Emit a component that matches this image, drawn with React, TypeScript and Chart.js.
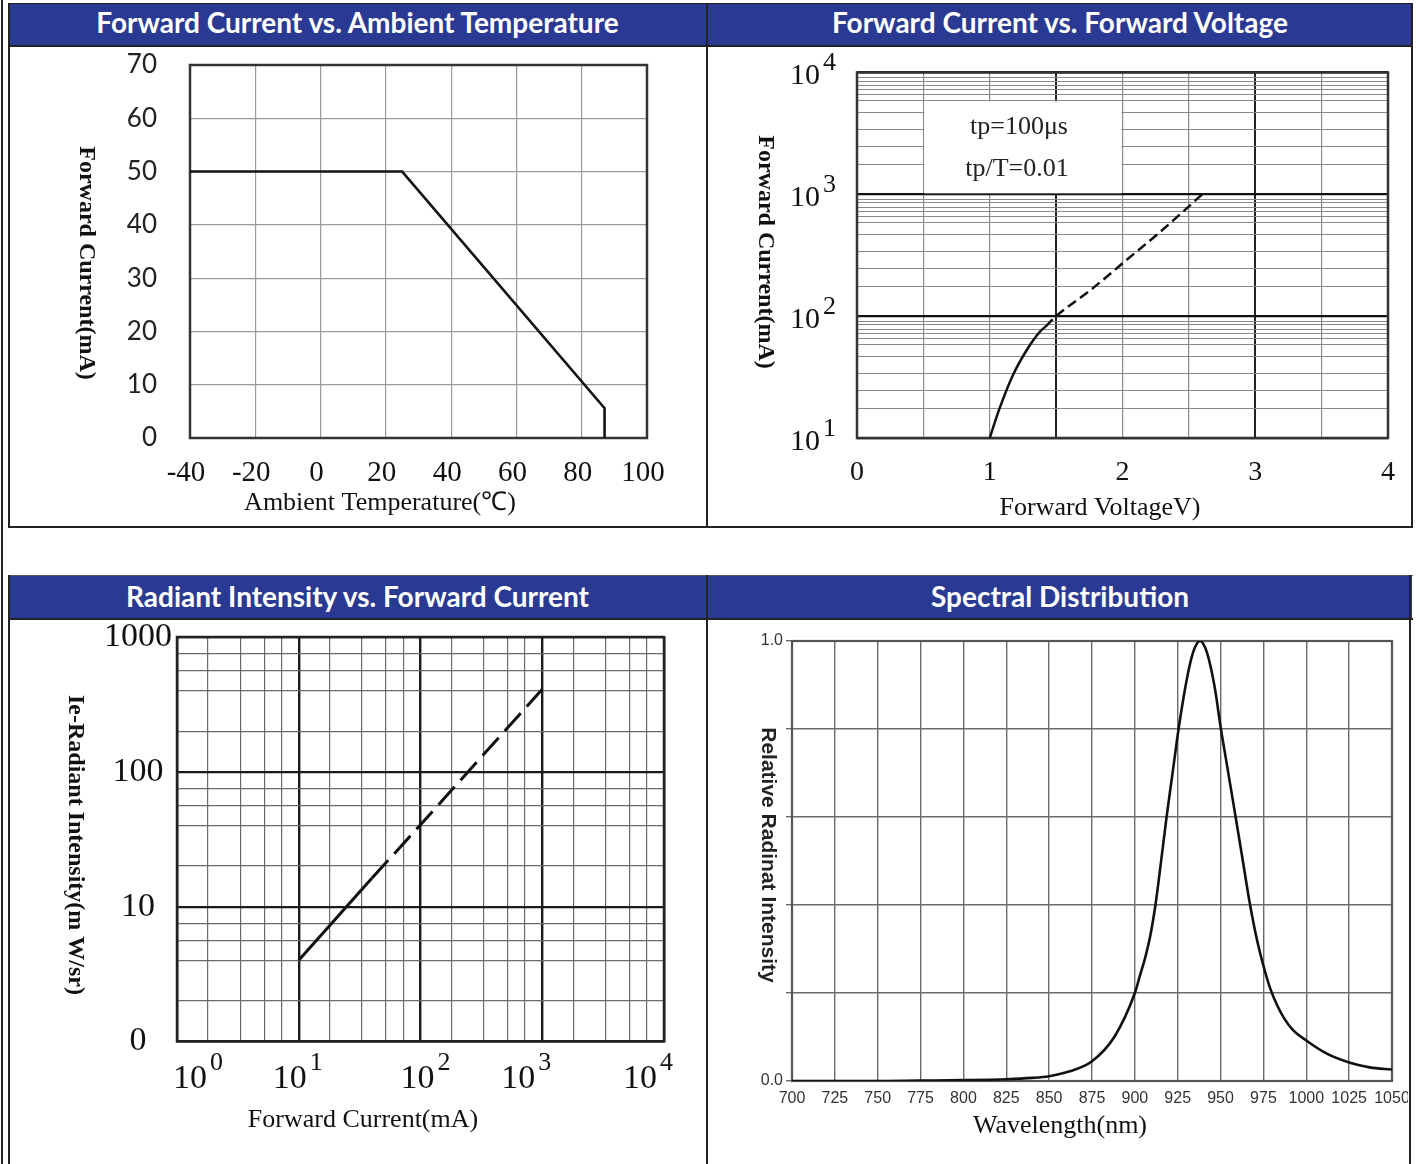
import React, { useEffect, useRef } from "react";
import { Chart, registerables } from "chart.js";
Chart.register(...registerables);

// ---------------- Data ----------------
const panelTitles = [
  "Forward Current vs. Ambient Temperature",
  "Forward Current vs. Forward Voltage",
  "Radiant Intensity vs. Forward Current",
  "Spectral Distribution",
];

// Chart 1: derating curve
const ambientTemp = [-40, 25, 87, 87];
const deratedCurrent = [50, 50, 5.6, 0];

// Chart 2: forward current vs forward voltage (log y)
const vfSolidVoltage = [1.0, 1.07, 1.17, 1.28, 1.38, 1.42];
const vfSolidCurrent = [10, 17, 32, 53, 75, 82];
const vfDashedVoltage = [1.42, 1.5, 1.76, 2.03, 2.3, 2.6];
const vfDashedCurrent = [82, 100, 164, 289, 509, 1000];
const vfDecades = [10, 100, 1000, 10000];
const vfMinorSteps = [1.75, 2.45, 3.4, 4.7, 5.9, 6.6, 7.2, 7.8, 8.5, 9.1];
const vfDarkVoltages = [1.5, 3];
const pulseNotes = ["tp=100\u03bcs", "tp/T=0.01"];

// Chart 3: radiant intensity vs forward current (log-log)
const ieSolidCurrent = [10, 40];
const ieSolidIntensity = [4.0, 16.3];
const ieDashedCurrent = [40, 100, 1000];
const ieDashedIntensity = [16.3, 40.5, 410];
const ifDecades = [1, 10, 100, 1000, 10000];
const ifMinorSteps = [1.8, 3.3, 5.2, 7.2];
const ieDecades = [1, 10, 100, 1000];
const ieMinorSteps = [2, 4, 5.6, 7.5];
const ieTickLabels = ["0", "10", "100", "1000"];

// Chart 4: spectral distribution
const wavelength = [
  700, 725, 750, 775, 800, 825, 840, 850, 862, 875, 888, 900, 903, 906, 909,
  912, 915, 918.5, 922, 925.5, 929, 932, 935, 938, 941, 944, 947, 950, 953,
  956, 959, 963, 967, 971, 975, 979, 983, 987, 992, 1000, 1012, 1025, 1037,
  1050,
];
const relIntensity = [
  0.0, 0.0, 0.0, 0.001, 0.002, 0.004, 0.007, 0.011, 0.022, 0.045, 0.1, 0.2,
  0.24, 0.28, 0.33, 0.4, 0.49, 0.6, 0.7, 0.8, 0.885, 0.945, 0.985, 1.0, 0.985,
  0.945, 0.885, 0.805, 0.735, 0.665, 0.595, 0.5, 0.405, 0.325, 0.262, 0.21,
  0.172, 0.143, 0.117, 0.092, 0.062, 0.042, 0.031, 0.026,
];

// ---------------- Helpers ----------------
const SERIF = "'Liberation Serif', 'Times New Roman', serif";
const SANS = "'Liberation Sans', Arial, sans-serif";
const HEAD = "Lato, 'Open Sans', sans-serif";
const BLUE = "#2a3a92";

const toXY = (xs: number[], ys: number[]) => xs.map((x, i) => ({ x, y: ys[i] }));
function logGrid(decades: number[], steps: number[]) {
  const out: number[] = [];
  decades.forEach((d, i) => {
    out.push(d);
    if (i < decades.length - 1) steps.forEach((s) => out.push(d * s));
  });
  return out;
}

type Box = { left: number; top: number; width: number; height: number };
type Area = { l: number; t: number; r: number; b: number };
function padFor(c: Box, a: Area, yW: number, xH: number) {
  return {
    left: a.l - c.left - yW,
    top: a.t - c.top,
    right: c.left + c.width - a.r,
    bottom: c.top + c.height - a.b - xH,
  };
}

const framePlugin = (color: string, width: number) => ({
  id: "frame",
  beforeDatasetsDraw(chart: any) {
    const { ctx, chartArea: a } = chart;
    ctx.save();
    ctx.strokeStyle = color;
    ctx.lineWidth = width;
    ctx.strokeRect(a.left, a.top, a.right - a.left, a.bottom - a.top);
    ctx.restore();
  },
});

type TextItem = { text: string; x: number; y: number; font: string; color?: string; rotate?: boolean };
const textPlugin = (items: TextItem[], c: Box) => ({
  id: "texts",
  afterDraw(chart: any) {
    const ctx = chart.ctx;
    items.forEach((it) => {
      ctx.save();
      ctx.font = it.font;
      ctx.fillStyle = it.color || "#111";
      ctx.textAlign = "center";
      ctx.textBaseline = "middle";
      ctx.translate(it.x - c.left, it.y - c.top);
      if (it.rotate) ctx.rotate(Math.PI / 2);
      ctx.fillText(it.text, 0, 0);
      ctx.restore();
    });
  },
});

// draws "10" with superscript exponent at decade positions of a log axis
const powerLabelPlugin = (
  axis: "x" | "y",
  decades: number[],
  c: Box,
  o: { pos: number; baseSize: number; expSize: number; expDy: number; baseDy?: number; shifts?: number[] }
) => ({
  id: "powerLabels" + axis,
  afterDraw(chart: any) {
    const ctx = chart.ctx;
    const scale = chart.scales[axis];
    decades.forEach((d, i) => {
      const p = scale.getPixelForValue(d);
      const exp = String(Math.round(Math.log10(d)));
      ctx.save();
      ctx.fillStyle = "#111";
      ctx.textBaseline = "middle";
      ctx.font = `${o.baseSize}px ${SERIF}`;
      const w = ctx.measureText("10").width;
      let bx: number, by: number;
      if (axis === "y") {
        bx = o.pos - c.left - w;
        by = p + (o.baseDy || 0);
      } else {
        bx = p + (o.shifts ? o.shifts[i] : 0) - w / 2;
        by = o.pos - c.top;
      }
      ctx.textAlign = "left";
      ctx.fillText("10", bx, by);
      ctx.font = `${o.expSize}px ${SERIF}`;
      ctx.fillText(exp, bx + w + 3, by + o.expDy);
      ctx.restore();
    });
  },
});

// ---------------- Chart configs ----------------
const C1: Box = { left: 10, top: 47, width: 696, height: 478 };
const A1: Area = { l: 190, t: 65, r: 647, b: 438 };
function config1() {
  return {
    type: "scatter",
    data: {
      datasets: [
        {
          data: toXY(ambientTemp, deratedCurrent),
          showLine: true,
          borderColor: "#151515",
          borderWidth: 2.6,
          pointRadius: 0,
          tension: 0,
        },
      ],
    },
    options: {
      responsive: false,
      animation: false,
      events: [],
      layout: { padding: padFor(C1, A1, 70, 60) },
      plugins: { legend: { display: false }, tooltip: { enabled: false } },
      scales: {
        x: {
          type: "linear",
          min: -40,
          max: 100,
          ticks: {
            stepSize: 20,
            autoSkip: false,
            maxRotation: 0,
            labelOffset: -4,
            font: { family: SERIF, size: 29 },
            color: "#111",
            padding: 18,
          },
          grid: { color: "#9a9a9a", lineWidth: 1.2, drawTicks: false },
          border: { display: false },
          afterFit: (s: any) => { s.height = 60; s.paddingLeft = 0; s.paddingRight = 0; },
        },
        y: {
          min: 0,
          max: 70,
          ticks: { stepSize: 10, autoSkip: false, font: { family: HEAD, size: 26 }, color: "#222", padding: 33 },
          grid: { color: "#9a9a9a", lineWidth: 1.2, drawTicks: false },
          border: { display: false },
          afterFit: (s: any) => { s.width = 70; s.paddingTop = 0; s.paddingBottom = 0; },
        },
      },
    },
    plugins: [
      framePlugin("#333", 2.5),
      textPlugin(
        [
          { text: "Forward Current(mA)", x: 86, y: 263, font: `bold 24px ${SERIF}`, rotate: true },
          { text: "Ambient Temperature(\u2103)", x: 380, y: 503, font: `26px ${SERIF}` },
        ],
        C1
      ),
    ],
  };
}

const C2: Box = { left: 709, top: 47, width: 702, height: 478 };
const A2: Area = { l: 857, t: 72.5, r: 1388, b: 438 };
function config2() {
  const boxPlugin = {
    id: "noteBox",
    beforeDatasetsDraw(chart: any) {
      const { ctx, scales } = chart;
      const x1 = scales.x.getPixelForValue(0.5);
      const x2 = scales.x.getPixelForValue(2.0);
      const y1 = scales.y.getPixelForValue(5900);
      const y2 = scales.y.getPixelForValue(1000);
      ctx.save();
      ctx.fillStyle = "#fff";
      ctx.fillRect(x1 + 1, y1 + 1, x2 - x1 - 2, y2 - y1 - 2);
      ctx.restore();
    },
  };
  return {
    type: "scatter",
    data: {
      datasets: [
        {
          data: toXY(vfSolidVoltage, vfSolidCurrent),
          showLine: true,
          borderColor: "#111",
          borderWidth: 2.5,
          pointRadius: 0,
          cubicInterpolationMode: "monotone",
        },
        {
          data: toXY(vfDashedVoltage, vfDashedCurrent),
          showLine: true,
          borderColor: "#111",
          borderWidth: 2.5,
          borderDash: [10, 5],
          pointRadius: 0,
          cubicInterpolationMode: "monotone",
        },
      ],
    },
    options: {
      responsive: false,
      animation: false,
      events: [],
      layout: { padding: padFor(C2, A2, 60, 60) },
      plugins: { legend: { display: false }, tooltip: { enabled: false } },
      scales: {
        x: {
          type: "linear",
          min: 0,
          max: 4,
          ticks: {
            stepSize: 0.5,
            autoSkip: false,
            maxRotation: 0,
            font: { family: SERIF, size: 28 },
            color: "#111",
            padding: 18,
            callback: (v: number) => (Number.isInteger(v) ? String(v) : ""),
          },
          grid: {
            color: (ctx: any) => (vfDarkVoltages.includes(ctx.tick?.value) ? "#222" : "#8a8a8a"),
            lineWidth: (ctx: any) => (vfDarkVoltages.includes(ctx.tick?.value) ? 2 : 1.2),
            drawTicks: false,
          },
          border: { display: false },
          afterFit: (s: any) => { s.height = 60; s.paddingLeft = 0; s.paddingRight = 0; },
        },
        y: {
          type: "logarithmic",
          min: 10,
          max: 10000,
          afterBuildTicks: (s: any) => { s.ticks = logGrid(vfDecades, vfMinorSteps).map((v) => ({ value: v })); },
          ticks: { display: false, autoSkip: false },
          grid: {
            color: (ctx: any) => (vfDecades.includes(ctx.tick?.value) ? "#111" : "#8a8a8a"),
            lineWidth: (ctx: any) => (vfDecades.includes(ctx.tick?.value) ? 2.2 : 1.1),
            drawTicks: false,
          },
          border: { display: false },
          afterFit: (s: any) => { s.width = 60; s.paddingTop = 0; s.paddingBottom = 0; },
        },
      },
    },
    plugins: [
      boxPlugin,
      framePlugin("#333", 2.5),
      powerLabelPlugin("y", vfDecades, C2, { pos: 820, baseSize: 30, expSize: 26, expDy: -13, baseDy: 4 }),
      textPlugin(
        [
          { text: "Forward Current(mA)", x: 765, y: 252, font: `bold 24px ${SERIF}`, rotate: true },
          { text: "Forward VoltageV)", x: 1100, y: 508, font: `26px ${SERIF}` },
          { text: pulseNotes[0], x: 1019, y: 127, font: `26px ${SERIF}`, color: "#222" },
          { text: pulseNotes[1], x: 1017, y: 169, font: `26px ${SERIF}`, color: "#222" },
        ],
        C2
      ),
    ],
  };
}

const C3: Box = { left: 10, top: 621, width: 696, height: 543 };
const A3: Area = { l: 177, t: 637, r: 664, b: 1041.5 };
function config3() {
  return {
    type: "scatter",
    data: {
      datasets: [
        {
          data: toXY(ieSolidCurrent, ieSolidIntensity),
          showLine: true,
          borderColor: "#111",
          borderWidth: 3,
          pointRadius: 0,
        },
        {
          data: toXY(ieDashedCurrent, ieDashedIntensity),
          showLine: true,
          borderColor: "#111",
          borderWidth: 3,
          borderDash: [24, 9],
          pointRadius: 0,
        },
      ],
    },
    options: {
      responsive: false,
      animation: false,
      events: [],
      layout: { padding: padFor(C3, A3, 95, 60) },
      plugins: { legend: { display: false }, tooltip: { enabled: false } },
      scales: {
        x: {
          type: "logarithmic",
          min: 1,
          max: 10000,
          afterBuildTicks: (s: any) => { s.ticks = logGrid(ifDecades, ifMinorSteps).map((v) => ({ value: v })); },
          ticks: { display: false, autoSkip: false },
          grid: {
            color: (ctx: any) => (ifDecades.includes(ctx.tick?.value) ? "#1a1a1a" : "#6a6a6a"),
            lineWidth: (ctx: any) => (ifDecades.includes(ctx.tick?.value) ? 2.4 : 1.2),
            drawTicks: false,
          },
          border: { display: false },
          afterFit: (s: any) => { s.height = 60; s.paddingLeft = 0; s.paddingRight = 0; },
        },
        y: {
          type: "logarithmic",
          min: 1,
          max: 1000,
          afterBuildTicks: (s: any) => { s.ticks = logGrid(ieDecades, ieMinorSteps).map((v) => ({ value: v })); },
          ticks: {
            autoSkip: false,
            font: { family: SERIF, size: 34 },
            color: "#111",
            padding: 5,
            crossAlign: "center",
            callback: (v: number) => {
              const i = ieDecades.indexOf(v);
              return i >= 0 ? ieTickLabels[i] : "";
            },
          },
          grid: {
            color: (ctx: any) => (ieDecades.includes(ctx.tick?.value) ? "#1a1a1a" : "#6a6a6a"),
            lineWidth: (ctx: any) => (ieDecades.includes(ctx.tick?.value) ? 2.2 : 1.2),
            drawTicks: false,
          },
          border: { display: false },
          afterFit: (s: any) => { s.width = 95; s.paddingTop = 0; s.paddingBottom = 0; },
        },
      },
    },
    plugins: [
      framePlugin("#222", 2.5),
      powerLabelPlugin("x", ifDecades, C3, { pos: 1079, baseSize: 34, expSize: 26, expDy: -16, shifts: [13, -9, -3, -24, -24] }),
      textPlugin(
        [
          { text: "Ie-Radiant Intensity(m W/sr)", x: 75, y: 845, font: `bold 24px ${SERIF}`, rotate: true },
          { text: "Forward Current(mA)", x: 363, y: 1120, font: `26px ${SERIF}` },
        ],
        C3
      ),
    ],
  };
}

const C4: Box = { left: 709, top: 621, width: 699, height: 543 };
const A4: Area = { l: 792, t: 641, r: 1392, b: 1081 };
function config4() {
  return {
    type: "scatter",
    data: {
      datasets: [
        {
          data: toXY(wavelength, relIntensity),
          showLine: true,
          borderColor: "#111",
          borderWidth: 2.6,
          pointRadius: 0,
          cubicInterpolationMode: "monotone",
        },
      ],
    },
    options: {
      responsive: false,
      animation: false,
      events: [],
      layout: { padding: padFor(C4, A4, 50, 30) },
      plugins: { legend: { display: false }, tooltip: { enabled: false } },
      scales: {
        x: {
          type: "linear",
          min: 700,
          max: 1050,
          ticks: {
            stepSize: 25,
            autoSkip: false,
            maxRotation: 0,
            font: { family: SANS, size: 16 },
            color: "#333",
            padding: 8,
            callback: (v: number) => String(v),
          },
          grid: { color: "#6a6a6a", lineWidth: 1.4, drawTicks: false },
          border: { display: false },
          afterFit: (s: any) => { s.height = 30; s.paddingLeft = 0; s.paddingRight = 0; },
        },
        y: {
          min: 0,
          max: 1,
          ticks: {
            stepSize: 0.2,
            autoSkip: false,
            font: { family: SANS, size: 16 },
            color: "#333",
            padding: 3,
            callback: (v: number) => (Math.abs(v) < 1e-9 ? "0.0" : Math.abs(v - 1) < 1e-9 ? "1.0" : ""),
          },
          grid: { color: "#6a6a6a", lineWidth: 1.4, drawTicks: true, tickLength: 6 },
          border: { display: false },
          afterFit: (s: any) => { s.width = 50; s.paddingTop = 0; s.paddingBottom = 0; },
        },
      },
    },
    plugins: [
      framePlugin("#555", 2.2),
      textPlugin(
        [
          { text: "Relative Radinat Intensity", x: 768, y: 855, font: `bold 21px ${SANS}`, color: "#222", rotate: true },
          { text: "Wavelength(nm)", x: 1060, y: 1126, font: `26px ${SERIF}` },
        ],
        C4
      ),
    ],
  };
}

// ---------------- Components ----------------
function ChartCanvas({ box, build }: { box: Box; build: () => any }) {
  const ref = useRef<HTMLCanvasElement>(null);
  useEffect(() => {
    const chart = new Chart(ref.current as HTMLCanvasElement, build());
    return () => chart.destroy();
  }, []);
  return (
    <canvas
      ref={ref}
      width={box.width}
      height={box.height}
      style={{ position: "absolute", left: box.left, top: box.top, width: box.width, height: box.height }}
    />
  );
}

function Header({ left, top, width, text, lh }: { left: number; top: number; width: number; text: string; lh: number }) {
  return (
    <div
      style={{
        position: "absolute",
        left,
        top,
        width,
        height: 42,
        background: BLUE,
        color: "#fff",
        fontFamily: HEAD,
        fontWeight: 700,
        fontSize: 28,
        lineHeight: `${lh}px`,
        textAlign: "center",
        whiteSpace: "nowrap",
        overflow: "hidden",
      }}
    >
      {text}
    </div>
  );
}

const line = (left: number, top: number, width: number, height: number, color = "#222") => (
  <div style={{ position: "absolute", left, top, width, height, background: color }} />
);

export default function App() {
  return (
    <div
      style={{
        position: "absolute",
        left: 0,
        top: 0,
        width: 1420,
        height: 1164,
        background: "#fff",
        overflow: "hidden",
      }}
    >
      {line(1, 0, 2, 1164)}
      <Header left={9} top={4} width={697} text={panelTitles[0]} lh={37} />
      <Header left={708} top={4} width={704} text={panelTitles[1]} lh={37} />
      <Header left={9} top={576} width={697} text={panelTitles[2]} lh={41} />
      <Header left={708} top={576} width={704} text={panelTitles[3]} lh={41} />
      <ChartCanvas box={C1} build={config1} />
      <ChartCanvas box={C2} build={config2} />
      <ChartCanvas box={C3} build={config3} />
      <ChartCanvas box={C4} build={config4} />
      {/* top panel frame */}
      {line(8, 3, 1405, 1)}
      {line(8, 45, 1405, 1.5)}
      {line(8, 526, 1405, 2)}
      {line(8, 3, 2, 525)}
      {line(1411, 3, 2, 525)}
      {line(706, 3, 2, 525)}
      {/* bottom panel frame */}
      {line(8, 575, 1405, 1, "#555")}
      {line(8, 618, 1405, 1.5)}
      {line(8, 575, 2, 589)}
      {line(1409, 575, 2, 589)}
      {line(706, 575, 2, 589)}
    </div>
  );
}
